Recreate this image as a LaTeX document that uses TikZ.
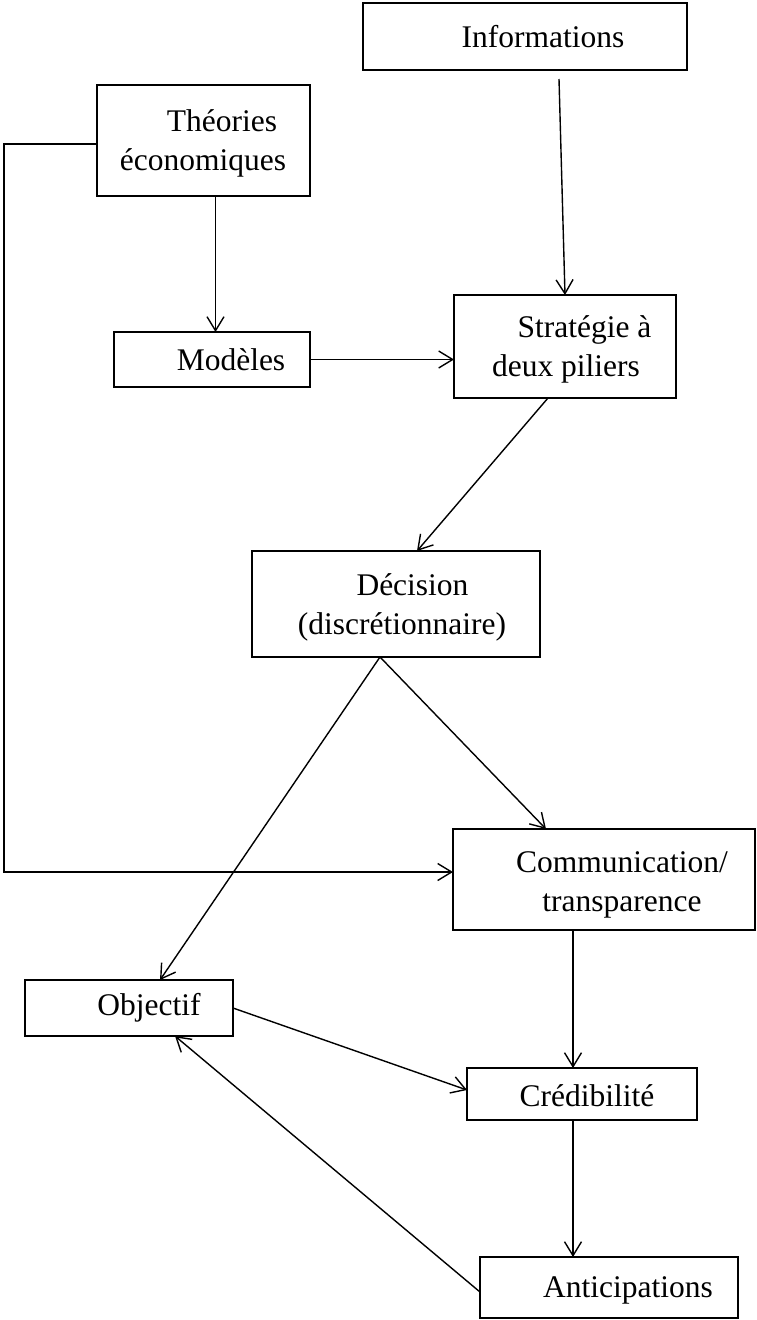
\documentclass[tikz,border=0pt]{standalone}
\usepackage{fontspec}
\setmainfont{Liberation Serif}
\usetikzlibrary{arrows.meta,fit}
\begin{document}
\begin{tikzpicture}[x=1pt,y=-1pt,
  box/.style={draw, line width=2.2pt, inner sep=0pt, outer sep=0pt, rectangle},
  txt/.style={font=\fontsize{31.5}{39}\selectfont, align=center, inner sep=0pt},
  arr/.style={line width=1.4pt, -{Straight Barb[length=14pt,width=17pt,line width=1.4pt]}}]
\useasboundingbox (0,0) rectangle (757,1320);
% boxes
\node[box, fit={(363,3) (687,70)}] (info) {};
\node[box, fit={(97,85) (310,196)}] (theo) {};
\node[box, fit={(114,332) (310,387)}] (mod) {};
\node[box, fit={(454,295) (676,398)}] (strat) {};
\node[box, fit={(252,551) (540,657)}] (dec) {};
\node[box, fit={(453,829) (755,930)}] (comm) {};
\node[box, fit={(25,980) (233,1036)}] (obj) {};
\node[box, fit={(467,1068) (697,1120)}] (cred) {};
\node[box, fit={(480,1257) (738,1318)}] (antic) {};
% texts
\node[txt] (infoT) at (543,37) {Informations};
\node[txt] (theoT) at (203,143) {\hspace*{38pt}Théories\\économiques};
\node[txt] (modT) at (231,360) {Modèles};
\node[txt] (stratT) at (566,349) {\hspace*{37pt}Stratégie à\\deux piliers};
\node[txt] (decT) at (402,607) {\hspace*{21pt}Décision\\(discrétionnaire)};
\node[txt] (commT) at (622,885) {Communication/\\transparence};
\node[txt] (objT) at (149,1008) {Objectif};
\node[txt] (credT) at (587,1096) {Crédibilité};
\node[txt] (anticT) at (628,1290) {Anticipations};
% connectors
\coordinate (infoOut) at (559,79);
\coordinate (corner) at (4,144);
\draw[arr] (infoOut) -- (strat.north);
\draw[arr] ([xshift=12pt]theo.south) -- ([xshift=12pt]theo.south |- mod.north);
\draw[arr] (mod.east) -- (mod.east -| strat.west);
\draw[arr] ([xshift=-17pt]strat.south) -- ([xshift=21pt]dec.north);
\draw[arr] ([xshift=-16pt]dec.south) -- ([xshift=-58pt]comm.north);
\draw[arr] ([xshift=-16pt]dec.south) -- ([xshift=31pt]obj.north);
\draw[arr] ([yshift=-3.5pt]theo.west) -- (corner) |- ([yshift=7.5pt]comm.west);
\draw[arr] ([xshift=-31pt]comm.south) -- ([xshift=-31pt]comm.south |- cred.north);
\draw[arr] ([xshift=-9pt]cred.south) -- ([xshift=-9pt]cred.south |- antic.north);
\draw[arr] (obj.east) -- ([yshift=4pt]cred.west);
\draw[arr] ([yshift=-4.5pt]antic.west) -- ([xshift=46pt]obj.south);
\end{tikzpicture}
\end{document}
